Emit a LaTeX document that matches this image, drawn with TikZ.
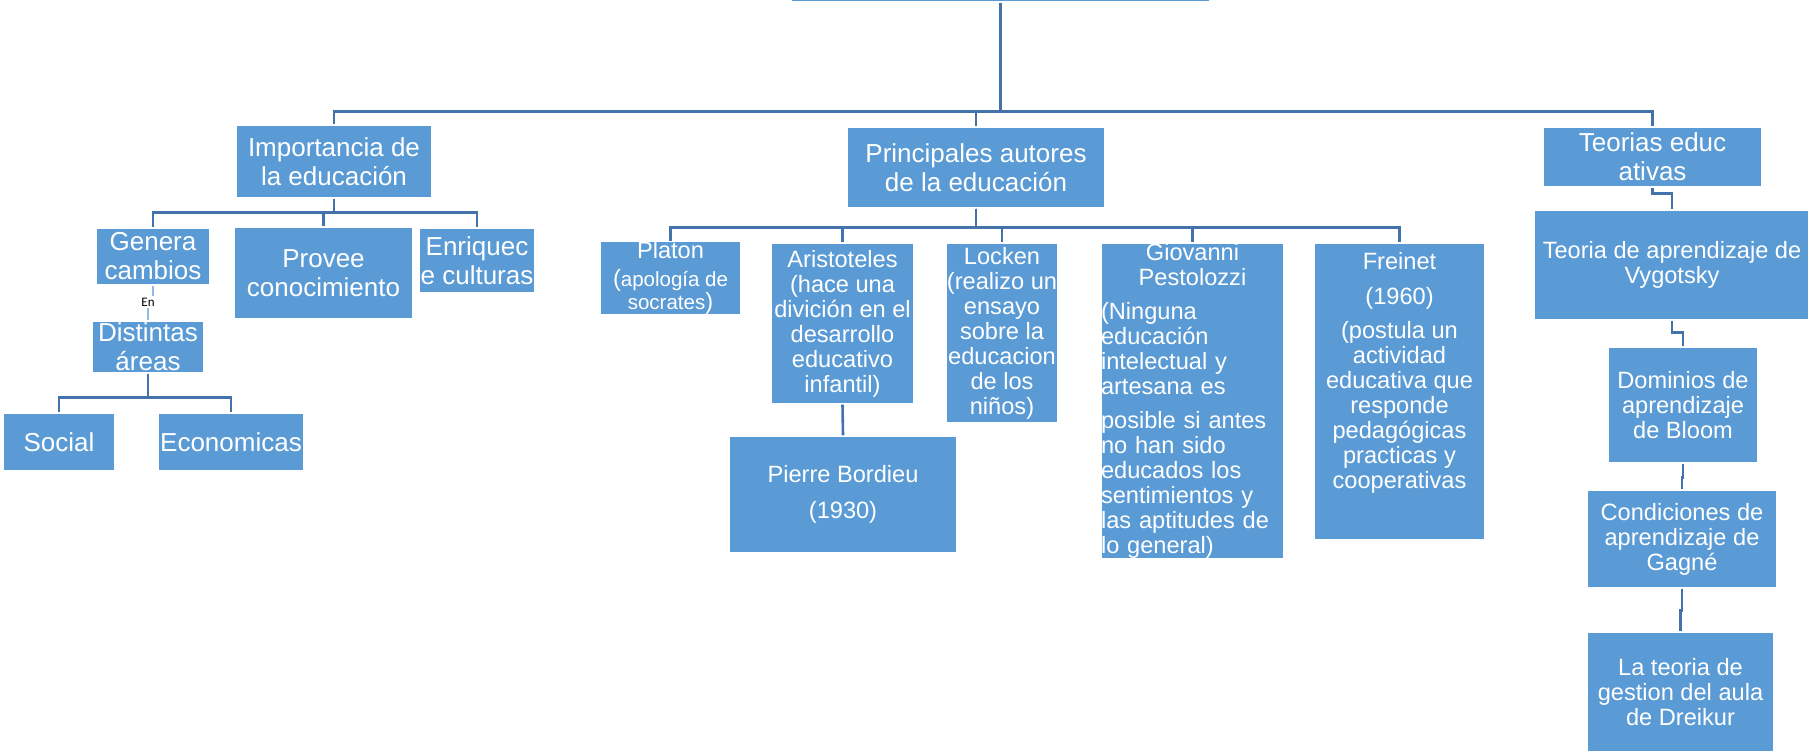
\documentclass[tikz,border=0pt]{standalone}
\usepackage{fontspec}
\setmainfont{Liberation Sans}
\newfontfamily\notafont{Carlito}
\usepackage{tikz}
\definecolor{azul}{RGB}{91,155,213}
\definecolor{linea}{RGB}{68,114,170}
\definecolor{tenue}{RGB}{150,185,225}
\newcommand{\menor}{\fontsize{10.25}{11.5}\selectfont}

\begin{document}
\begin{tikzpicture}[x=0.5pt,y=-0.5pt]
\tikzset{caja/.style={draw=white, line width=0.6pt, fill=azul, text=white, inner sep=0pt, align=center},
grande/.style={font=\fontsize{13}{14.5}\selectfont},
chica/.style={font=\fontsize{11.8}{12.5}\selectfont},
nota/.style={font=\notafont\fontsize{6.5}{7}\selectfont, inner sep=0.5pt},
conector/.style={draw=linea, line width=1.3pt},
enlace/.style={draw=tenue, line width=1pt}}
\useasboundingbox (0,0) rectangle (1808,751);

% raiz, cortada arriba
\node[caja, minimum width=209.5pt, minimum height=30pt] (raiz) at (1000.5,-28) {};

\node[caja, grande, minimum width=98pt, minimum height=36.5pt] (imp) at (334,161.5) {Importancia de\\la educación};
\node[caja, grande, minimum width=129pt, minimum height=40.5pt] (pri) at (976,167.5) {Principales autores\\de la educación};
\node[caja, grande, minimum width=109.5pt, minimum height=30pt] (teo) at (1652.5,157) {Teorias educ\\ativas};

% importancia
\node[caja, grande, minimum width=57pt, minimum height=28.5pt] (gen) at (153,256.5) {Genera\\cambios};
\node[caja, grande, minimum width=89.5pt, minimum height=46pt] (pro) at (323.5,273) {Provee\\conocimiento};
\node[caja, grande, minimum width=58pt, minimum height=32.5pt] (enr) at (477,260.5) {Enriquec\\e culturas};
\node[nota] (en) at (148,302) {En};
\node[caja, grande, minimum width=56pt, minimum height=26pt] (dis) at (148,347) {Distintas\\áreas};
\node[caja, grande, minimum width=56pt, minimum height=29pt] (soc) at (59,442) {Social};
\node[caja, grande, minimum width=73pt, minimum height=29pt] (eco) at (231,442) {Economicas};

% autores
\node[caja, chica, minimum width=70.5pt, minimum height=35pt] (pla) at (670.5,278) {Platon\\[1.5pt]({\menor apología de}\\[-1pt]{\menor socrates})};
\node[caja, chica, minimum width=71.5pt, minimum height=80.5pt] (ari) at (842.5,323.5) {Aristoteles\\(hace una\\divición en el\\desarrollo\\educativo\\infantil)};
\node[caja, chica, minimum width=114pt, minimum height=58.5pt] (bor) at (843,494.5) {Pierre Bordieu\\[5.5pt](1930)};
\node[caja, chica, minimum width=56pt, minimum height=90pt] (loc) at (1002,333) {Locken\\(realizo un\\ensayo\\sobre la\\educacion\\de los\\niños)};
\node[caja, chica, text width=91.5pt, align=left, minimum height=158pt] (pes) at (1192.5,401) {\centering Giovanni\\Pestolozzi\par\vspace{4.5pt}\raggedright (Ninguna\\educación\\intelectual y\\artesana es\\[4.5pt]posible si antes\\no han sido\\educados los\\sentimientos y\\las aptitudes de\\lo general)};
\node[caja, minimum width=85.5pt, minimum height=148.5pt] (fre) at (1399.5,391.5) {};
\node[chica, text=white, align=center, inner sep=0pt, anchor=north] (fret) at ([yshift=-5pt]fre.north) {Freinet\\[5pt](1960)\\[4.5pt](postula un\\actividad\\educativa que\\responde\\pedagógicas\\practicas y\\cooperativas};

% teorias
\node[caja, chica, minimum width=138pt, minimum height=55pt] (vyg) at (1672,265) {Teoria de aprendizaje de\\Vygotsky};
\node[caja, chica, minimum width=75pt, minimum height=58pt] (blo) at (1683,405) {Dominios de\\aprendizaje\\de Bloom};
\node[caja, chica, minimum width=95pt, minimum height=49pt] (gag) at (1682,539) {Condiciones de\\aprendizaje de\\Gagné};
\node[caja, chica, minimum width=93.5pt, minimum height=60pt] (dre) at (1680.5,692) {La teoria de\\gestion del aula\\de Dreikur};

\draw[conector] (raiz.south) -- ++(0,109) -| (imp.north);
\draw[conector] (raiz.south) -- ++(0,109) -| (pri.north);
\draw[conector] (raiz.south) -- ++(0,109) -| (teo.north);

\draw[conector] (imp.south) -- ++(0,14) -| (gen.north);
\draw[conector] (imp.south) -- ++(0,14) -| (pro.north);
\draw[conector] (imp.south) -- ++(0,14) -| (enr.north);
\draw[enlace] (gen.south) -- (gen.south |- en.north);
\draw[enlace] (en.south -| dis.north) -- (dis.north);
\draw[conector] (dis.south) -- ++(0,24) -| (soc.north);
\draw[conector] (dis.south) -- ++(0,24) -| (eco.north);

\draw[conector] (pri.south) -- ++(0,19) -| (pla.north);
\draw[conector] (pri.south) -- ++(0,19) -| (ari.north);
\draw[conector] (pri.south) -- ++(0,19) -| (loc.north);
\draw[conector] (pri.south) -- ++(0,19) -| (pes.north);
\draw[conector] (pri.south) -- ++(0,19) -| (fre.north);
\draw[conector] (ari.south) -- (bor.north);

\draw[conector] (teo.south) -- ++(0,6) -| (vyg.north);
\draw[conector] (vyg.south) -- ++(0,12) -| (blo.north);
\draw[conector] (blo.south) -- ++(0,14) -| (gag.north);
\draw[conector] (gag.south) -- ++(0,22) -| (dre.north);
\end{tikzpicture}
\end{document}
